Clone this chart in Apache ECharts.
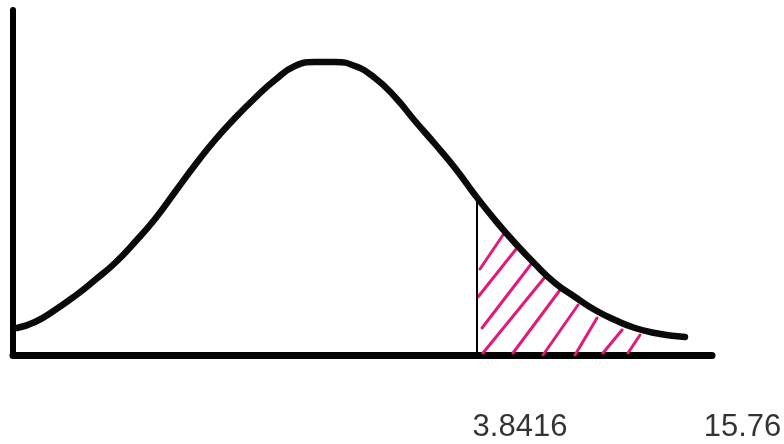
<!DOCTYPE html>
<html>
<head>
<meta charset="utf-8">
<script src="https://cdn.jsdelivr.net/npm/echarts@6/dist/echarts.min.js"></script>
<style>html,body{margin:0;padding:0;background:#fff}#c{width:784px;height:444px}</style>
</head>
<body>
<div id="c"></div>
<script>
// Curve (arbitrary units)
const curveX = [4, 22, 42, 62, 82, 102, 122, 142, 162, 182, 202, 222, 242, 262, 282, 302, 322, 342, 362, 382, 402, 422, 442, 462, 482, 502, 522, 542, 562, 582, 602, 622, 642, 662, 672];
const curveY = [27, 33, 45, 59, 75, 92, 113, 136, 163, 190, 215, 237, 257, 275, 289, 293, 293, 289, 277, 258, 234, 211, 187, 160, 135, 112, 91, 72, 58, 45, 35, 27, 22, 19, 18];
// Cut-off line
const cutX = 464;
const cutTop = 156;
// Hatch strokes: start and end points
const hatchX1 = [467, 465, 469, 470, 500, 530, 562, 590, 615];
const hatchY1 = [86, 58, 27, 2, 2, 0, 0, 2, 2];
const hatchX2 = [490, 504, 519, 532, 547, 565, 584, 609, 627];
const hatchY2 = [120, 107, 92, 78, 65, 50, 37, 25, 20];
// Labels under the axis
const labelTexts = ['3.8416', '15.76'];
const labelX = [507, 729.5];

const chart = echarts.init(document.getElementById('c'), null, {renderer: 'canvas'});
chart.setOption({
  animation: false,
  backgroundColor: '#ffffff',
  grid: {left: 13, right: 72, top: 10, bottom: 89, containLabel: false},
  xAxis: {
    type: 'value', min: 0, max: 699,
    axisLine: {show: true, lineStyle: {color: '#000', width: 7}},
    axisTick: {show: false}, axisLabel: {show: false}, splitLine: {show: false}
  },
  yAxis: {
    type: 'value', min: 0, max: 345,
    axisLine: {show: true, lineStyle: {color: '#000', width: 6}},
    axisTick: {show: false}, axisLabel: {show: false}, splitLine: {show: false}
  },
  series: [
    {
      type: 'lines', coordinateSystem: 'cartesian2d', z: 2,
      lineStyle: {color: '#e01b7b', width: 3, opacity: 1, cap: 'round'},
      data: hatchX1.map((x, i) => ({coords: [[x, hatchY1[i]], [hatchX2[i], hatchY2[i]]]}))
    },
    {
      type: 'line', z: 3, symbol: 'none', clip: false,
      lineStyle: {color: '#000', width: 2},
      data: [[cutX, 0], [cutX, cutTop]]
    },
    {
      type: 'line', z: 4, symbol: 'none', smooth: 0.5, clip: false,
      lineStyle: {color: '#0a0a0a', width: 6.5, cap: 'round', join: 'round'},
      data: curveX.map((x, i) => [x, curveY[i]])
    },
    {
      type: 'scatter', symbolSize: 0, clip: false, z: 5,
      label: {
        show: true, position: 'inside', offset: [0, 72.5],
        formatter: p => labelTexts[p.dataIndex],
        fontFamily: 'Liberation Sans, Arial, sans-serif', fontSize: 31,
        color: '#000', align: 'center', verticalAlign: 'middle'
      },
      data: labelX.map(x => [x, 0])
    }
  ]
});
</script>
</body>
</html>
